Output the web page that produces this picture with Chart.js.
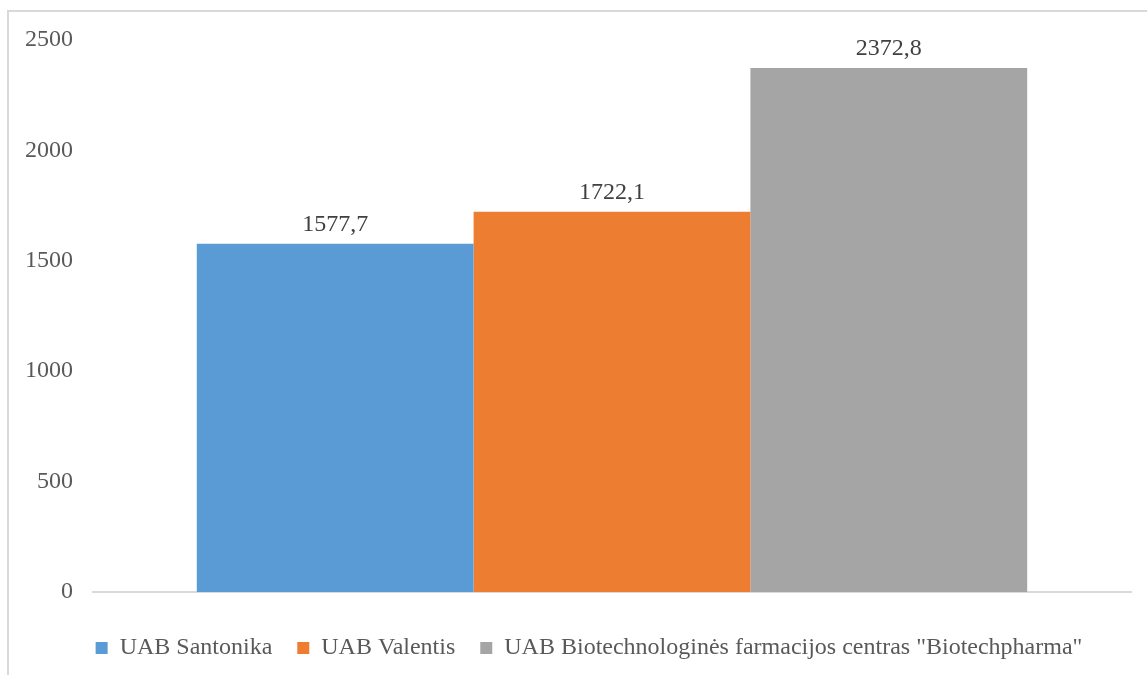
<!DOCTYPE html>
<html>
<head>
<meta charset="utf-8">
<script src="https://cdn.jsdelivr.net/npm/chart.js@4"></script>
<style>
  html, body { margin: 0; padding: 0; width: 1147px; height: 675px; overflow: hidden; background: #fff; }
  #frame { position: absolute; left: 7px; top: 10px; width: 2000px; height: 2000px; border: 2px solid #d9d9d9; box-sizing: border-box; }
  #wrap { position: absolute; left: 0; top: 0; width: 1178px; height: 675px; }
</style>
</head>
<body>
<div id="frame"></div>
<div id="wrap"><canvas id="c" width="1178" height="675"></canvas></div>
<script>
const categories = [''];
const seriesNames = ['UAB Santonika', 'UAB Valentis', 'UAB Biotechnologinės farmacijos centras "Biotechpharma"'];
const seriesValues = [[1577.7], [1722.1], [2372.8]];
const seriesColors = ['#5b9bd5', '#ed7d31', '#a5a5a5'];
const yTicks = [0, 500, 1000, 1500, 2000, 2500];

const FONT = '"Liberation Serif", "Times New Roman", serif';

const valueLabels = {
  id: 'valueLabels',
  afterDatasetsDraw(chart) {
    const ctx = chart.ctx;
    ctx.save();
    ctx.font = '24px ' + FONT;
    ctx.fillStyle = '#404040';
    ctx.textAlign = 'center';
    ctx.textBaseline = 'alphabetic';
    chart.data.datasets.forEach((ds, i) => {
      const meta = chart.getDatasetMeta(i);
      meta.data.forEach((el, j) => {
        const v = ds.data[j];
        ctx.fillText(v.toFixed(1).replace('.', ','), el.x, el.y - 13);
      });
    });
    ctx.restore();
  }
};

new Chart(document.getElementById('c'), {
  type: 'bar',
  data: {
    labels: categories,
    datasets: seriesNames.map((name, i) => ({
      label: name,
      data: seriesValues[i],
      backgroundColor: seriesColors[i],
      borderWidth: 0,
      categoryPercentage: 0.8,
      barPercentage: 1.0
    }))
  },
  options: {
    responsive: false,
    animation: false,
    layout: { padding: { left: 0, right: 0, top: 40, bottom: 5 } },
    plugins: {
      legend: {
        position: 'bottom',
        labels: {
          font: { family: FONT, size: 24 },
          color: '#595959',
          boxWidth: 12,
          boxHeight: 12,
          padding: 25
        }
      },
      tooltip: { enabled: false }
    },
    scales: {
      x: {
        grid: { display: false },
        ticks: { display: false },
        border: { display: true, color: '#d9d9d9', width: 2 },
        afterFit(s) { s.height = 19; }
      },
      y: {
        min: 0,
        max: 2500,
        afterBuildTicks(s) { s.ticks = yTicks.map(v => ({ value: v })); },
        grid: { display: false },
        border: { display: false },
        ticks: {
          font: { family: FONT, size: 24 },
          color: '#595959',
          padding: 12,
          callback: (v) => String(v)
        },
        afterFit(s) { s.width = 93; }
      },
      yRight: {
        type: 'linear',
        position: 'right',
        display: true,
        grid: { display: false },
        border: { display: false },
        ticks: { display: false },
        afterFit(s) { s.width = 47; }
      }
    }
  },
  plugins: [valueLabels]
});
</script>
</body>
</html>
